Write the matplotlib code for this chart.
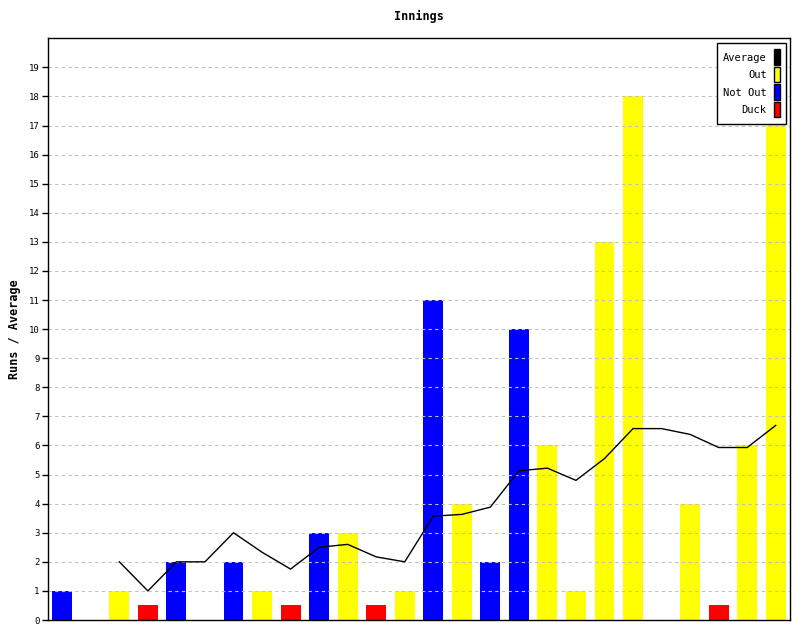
import matplotlib
matplotlib.use('Agg')
import matplotlib.pyplot as plt
from matplotlib.patches import Patch
import numpy as np

plt.rcParams['font.family'] = ['DejaVu Sans Mono']

# runs per innings and how the innings ended
runs = [1, 0, 1, 0.5, 2, 0, 2, 1, 0.5, 3, 3, 0.5, 1,
        11, 4, 2, 10, 6, 1, 13, 18, 0, 4, 0.5, 6, 18]
kind = ['Not Out', 'Not Out', 'Out', 'Duck', 'Not Out', 'Not Out', 'Not Out',
        'Out', 'Duck', 'Not Out', 'Out', 'Duck', 'Out', 'Not Out', 'Out',
        'Not Out', 'Not Out', 'Out', 'Out', 'Out', 'Out', 'Not Out', 'Out',
        'Duck', 'Out', 'Out']
# running average (none until the first dismissal)
average = [None, None, 2, 1, 2, 2, 3, 2.33, 1.75, 2.5, 2.6, 2.17, 2,
           3.57, 3.63, 3.88, 5.13, 5.22, 4.8, 5.55, 6.58, 6.58, 6.38,
           5.93, 5.93, 6.69]

colours = {'Out': '#ffff00', 'Not Out': '#0000ff', 'Duck': '#ff0000'}

x = np.arange(len(runs))

fig = plt.figure(figsize=(8, 6.4), dpi=100)
ax = fig.add_axes([0.06, 0.03125, 0.9275, 0.909])

ax.bar(x, runs, width=0.7, color=[colours[k] for k in kind], zorder=1)

avg = np.array([np.nan if a is None else a for a in average], dtype=float)
ax.plot(x, avg, color='black', linewidth=1, zorder=3)

ax.set_xlim(-0.5, len(runs) - 0.5)
ax.set_ylim(0, 20)
ax.set_yticks(range(0, 20))
ax.set_xticks([])
ax.tick_params(axis='y', labelsize=6.5, length=4, width=1, pad=2)
for y in range(1, 20):
    ax.axhline(y, color='#c0c0c0', linestyle=(0, (3, 3)), linewidth=0.8, zorder=2)
for s in ax.spines.values():
    s.set_linewidth(1)

ax.set_ylabel('Runs / Average', fontsize=8.5, fontweight='bold')
ax.yaxis.set_label_coords(-0.036, 0.5)
ax.set_title('Innings', fontsize=8.5, fontweight='bold', pad=13)

handles = [Patch(facecolor='black', edgecolor='black', label='Average'),
           Patch(facecolor='#ffff00', edgecolor='black', label='Out'),
           Patch(facecolor='#0000ff', edgecolor='black', label='Not Out'),
           Patch(facecolor='#ff0000', edgecolor='black', label='Duck')]
leg = ax.legend(handles=handles, loc='upper right', markerfirst=False,
                fontsize=7.5, handlelength=0.55, handleheight=1.9,
                handletextpad=0.7, labelspacing=0.2, borderpad=0.6,
                borderaxespad=0, fancybox=False, framealpha=1,
                edgecolor='black', bbox_to_anchor=(0.9946, 0.9914))
leg.get_frame().set_linewidth(1)
for t in leg.get_texts():
    t.set_ha('right')
leg.set_zorder(5)

fig.savefig('out.png', dpi=100)
